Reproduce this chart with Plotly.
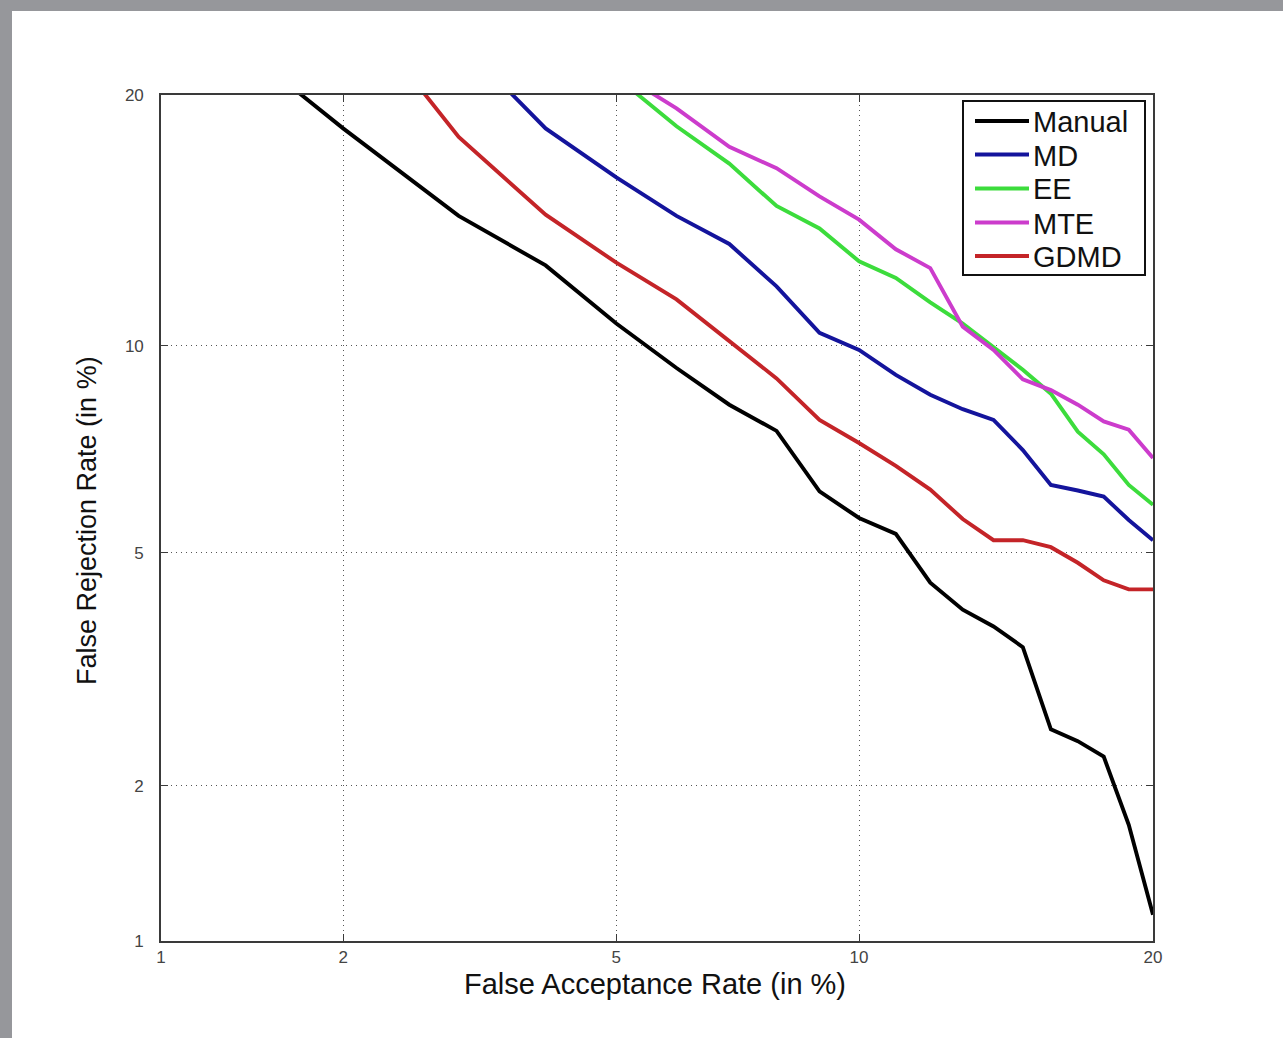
from statistics import NormalDist
import plotly.graph_objects as go

# DET curves: false acceptance rate vs false rejection rate, both in percent
far_manual = list(range(1, 21))
frr_manual = [26.0, 18.4, 14.6, 12.7, 10.7, 9.33, 8.30, 7.62, 6.21, 5.66,
              5.35, 4.48, 4.05, 3.80, 3.51, 2.53, 2.41, 2.26, 1.69, 1.13]

far_md = list(range(3, 21))
frr_md = [22.8, 18.4, 16.2, 14.6, 13.5, 11.95, 10.4, 9.87, 9.13, 8.57,
          8.18, 7.90, 7.15, 6.35, 6.23, 6.10, 5.62, 5.23]

far_ee = list(range(5, 21))
frr_ee = [20.9, 18.5, 16.8, 15.0, 14.1, 12.85, 12.25, 11.4, 10.7, 9.97,
          9.28, 8.60, 7.60, 7.05, 6.35, 5.93]

far_mte = list(range(5, 21))
frr_mte = [21.2, 19.35, 17.55, 16.6, 15.4, 14.45, 13.3, 12.6, 10.6, 9.87,
           9.00, 8.70, 8.30, 7.86, 7.65, 6.96]

far_gdmd = list(range(2, 21))
frr_gdmd = [25.5, 18.0, 14.65, 12.8, 11.5, 10.15, 9.03, 7.90, 7.32, 6.78,
            6.25, 5.64, 5.23, 5.23, 5.10, 4.82, 4.52, 4.37, 4.37]

series_names = ["Manual", "MD", "EE", "MTE", "GDMD"]
series_far = [far_manual, far_md, far_ee, far_mte, far_gdmd]
series_frr = [frr_manual, frr_md, frr_ee, frr_mte, frr_gdmd]
series_colors = ["#000000", "#14149c", "#3cdc3c", "#cc3ccc", "#c42428"]

tick_values = [1, 2, 5, 10, 20]
tick_labels = ["1", "2", "5", "10", "20"]

# normal-deviate warping used by DET plots
_nd = NormalDist()


def deviate(pct):
    return _nd.inv_cdf(pct / 100.0)


W, H = 1283, 1038
L, R, T, B = 161, 1153, 95, 941


def px(x):
    return (x - L) / (R - L)


def py(y):
    return (B - y) / (B - T)


FONT = "Liberation Sans, Arial, sans-serif"

fig = go.Figure()
for name, xs, ys, col in zip(series_names, series_far, series_frr, series_colors):
    fig.add_trace(go.Scatter(
        x=[deviate(v) for v in xs],
        y=[deviate(v) for v in ys],
        mode="lines",
        name=name,
        line=dict(color=col, width=3.9),
        showlegend=False,
    ))

axis_common = dict(
    range=[deviate(tick_values[0]), deviate(tick_values[-1])],
    tickmode="array",
    tickvals=[deviate(v) for v in tick_values],
    ticktext=tick_labels,
    showgrid=True,
    gridcolor="#555555",
    gridwidth=1,
    griddash="1px,4px",
    zeroline=False,
    showline=True,
    linecolor="#3a3a3a",
    linewidth=1.6,
    mirror="ticks",
    ticks="inside",
    ticklen=7,
    tickcolor="#3a3a3a",
    tickwidth=1.2,
    tickfont=dict(family=FONT, size=17, color="#444444"),
)

fig.update_xaxes(**axis_common, ticklabelstandoff=0)
fig.update_yaxes(**axis_common, ticklabelstandoff=12)

shapes = []
# window frame strips
frame_col = "#96979b"
shapes.append(dict(type="rect", xref="paper", yref="paper",
                   x0=px(0), x1=px(12), y0=py(H), y1=py(0),
                   fillcolor=frame_col, line=dict(width=0), layer="below"))
shapes.append(dict(type="rect", xref="paper", yref="paper",
                   x0=px(0), x1=px(W), y0=py(11), y1=py(0),
                   fillcolor=frame_col, line=dict(width=0), layer="below"))

# legend box
shapes.append(dict(type="rect", xref="paper", yref="paper",
                   x0=px(963), x1=px(1145), y0=py(275), y1=py(101),
                   fillcolor="white", line=dict(color="#111111", width=2), layer="above"))

annotations = []
legend_rows = [121, 154.5, 188.5, 222.5, 256]
for name, col, yy in zip(series_names, series_colors, legend_rows):
    shapes.append(dict(type="line", xref="paper", yref="paper",
                       x0=px(975), x1=px(1029), y0=py(yy), y1=py(yy),
                       line=dict(color=col, width=3.9), layer="above"))
    annotations.append(dict(xref="paper", yref="paper", x=px(1031), y=py(yy + 1),
                            text=name, showarrow=False, xanchor="left", yanchor="middle",
                            font=dict(family=FONT, size=29, color="#111111")))

# axis titles
annotations.append(dict(xref="paper", yref="paper", x=px(655), y=py(984),
                        text="False Acceptance Rate (in %)", showarrow=False,
                        xanchor="center", yanchor="middle",
                        font=dict(family=FONT, size=29, color="#111111")))
annotations.append(dict(xref="paper", yref="paper", x=px(87), y=py(521),
                        text="False Rejection Rate (in %)", showarrow=False,
                        textangle=-90, xanchor="center", yanchor="middle",
                        font=dict(family=FONT, size=27, color="#111111")))

fig.update_layout(
    width=W, height=H, autosize=False,
    margin=dict(l=L, r=W - R, t=T, b=H - B, pad=0),
    paper_bgcolor="white",
    plot_bgcolor="white",
    shapes=shapes,
    annotations=annotations,
    showlegend=False,
)

fig.write_html("out.html")
